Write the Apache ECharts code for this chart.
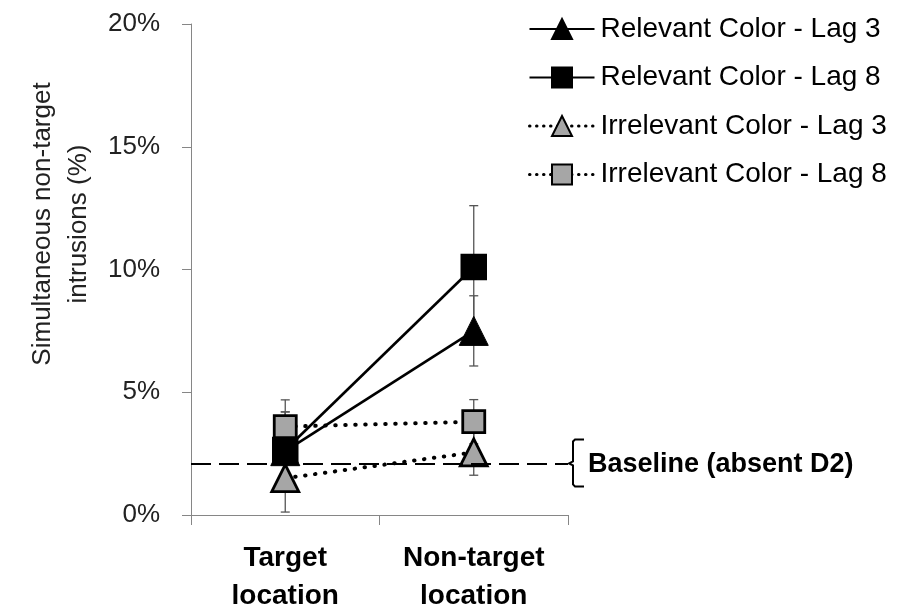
<!DOCTYPE html>
<html>
<head>
<meta charset="utf-8">
<script src="https://cdn.jsdelivr.net/npm/echarts@6/dist/echarts.min.js"></script>
<style>html,body{margin:0;padding:0;background:#fff}#c{width:904px;height:610px}</style>
</head>
<body>
<div id="c"></div>
<script>
const categories = ['Target\nlocation', 'Non-target\nlocation'];
const seriesNames = ['Relevant Color - Lag 3', 'Relevant Color - Lag 8', 'Irrelevant Color - Lag 3', 'Irrelevant Color - Lag 8'];
const relLag3 = [2.6, 7.5];
const relLag8 = [2.65, 10.1];
const irrLag3 = [1.5, 2.55];
const irrLag8 = [3.6, 3.8];
const relLag3Err = [1.6, 1.43];
const relLag8Err = [1.55, 2.5];
const irrLag3Err = [1.38, 0.93];
const irrLag8Err = [1.09, 0.9];
const baseline = 2.1;
const baselineLabel = 'Baseline (absent D2)';
const yAxisTitle = 'Simultaneous non-target\nintrusions (%)';

const FONT = 'Liberation Sans';
const chart = echarts.init(document.getElementById('c'), null, {renderer: 'canvas'});

function errSeries(vals, errs) {
  return {
    type: 'custom',
    silent: true,
    z: 1,
    data: vals.map((v, i) => [i, v - errs[i], v + errs[i]]),
    renderItem: function (params, api) {
      const lo = api.coord([api.value(0), api.value(1)]);
      const hi = api.coord([api.value(0), api.value(2)]);
      const w = 4.5;
      const st = {stroke: '#555', lineWidth: 1.3};
      return {
        type: 'group',
        children: [
          {type: 'line', shape: {x1: lo[0], y1: lo[1], x2: hi[0], y2: hi[1]}, style: st},
          {type: 'line', shape: {x1: lo[0] - w, y1: lo[1], x2: lo[0] + w, y2: lo[1]}, style: st},
          {type: 'line', shape: {x1: hi[0] - w, y1: hi[1], x2: hi[0] + w, y2: hi[1]}, style: st}
        ]
      };
    }
  };
}

const dotted = {color: '#000', width: 4, type: [0.5, 9.5], cap: 'round'};
const solid = {color: '#000', width: 2.6, type: 'solid'};
const legendDotted = {color: '#000', width: 3, type: [0.5, 6.5], cap: 'round'};

const option = {
  animation: false,
  backgroundColor: '#fff',
  textStyle: {fontFamily: FONT},
  grid: {left: 191, right: 336, top: 24, bottom: 95, containLabel: false, outerBoundsMode: 'none'},
  legend: {
    data: [
      {name: seriesNames[0]},
      {name: seriesNames[1]},
      {name: seriesNames[2], lineStyle: legendDotted},
      {name: seriesNames[3], lineStyle: legendDotted}
    ],
    orient: 'vertical',
    left: 523,
    top: 10,
    itemWidth: 65,
    itemHeight: 25,
    itemGap: 20.5,
    textStyle: {fontFamily: FONT, fontSize: 28, color: '#000', padding: [0, 0, 0, 1]},
    selectedMode: false
  },
  xAxis: {
    type: 'category',
    data: categories,
    boundaryGap: true,
    axisLine: {lineStyle: {color: '#868686', width: 1}},
    axisTick: {show: true, length: 10, lineStyle: {color: '#868686'}},
    axisLabel: {fontFamily: FONT, fontSize: 28, fontWeight: 'bold', color: '#000', lineHeight: 38, margin: 24},
    splitLine: {show: false}
  },
  yAxis: {
    type: 'value',
    min: 0,
    max: 20,
    interval: 5,
    axisLine: {show: true, lineStyle: {color: '#868686', width: 1}},
    axisTick: {show: true, length: 9, lineStyle: {color: '#868686'}},
    axisLabel: {fontFamily: FONT, fontSize: 26, color: '#222', margin: 31, formatter: '{value}%'},
    splitLine: {show: false}
  },
  series: [
    errSeries(relLag3, relLag3Err),
    errSeries(relLag8, relLag8Err),
    errSeries(irrLag3, irrLag3Err),
    errSeries(irrLag8, irrLag8Err),
    {
      name: seriesNames[0], type: 'line', data: relLag3, z: 2,
      symbol: 'triangle', symbolSize: 29, showAllSymbol: true,
      lineStyle: solid,
      itemStyle: {color: '#000', borderColor: '#000', borderWidth: 1},
      markLine: {
        silent: true, symbol: 'none', animation: false,
        label: {show: false},
        lineStyle: {color: '#000', width: 2, type: [20, 8]},
        data: [{yAxis: baseline}]
      }
    },
    {
      name: seriesNames[1], type: 'line', data: relLag8, z: 3,
      symbol: 'rect', symbolSize: 25,
      lineStyle: solid,
      itemStyle: {color: '#000', borderColor: '#000', borderWidth: 1.5}
    },
    {
      name: seriesNames[2], type: 'line', data: irrLag3, z: 4,
      symbol: 'triangle', symbolSize: 27,
      lineStyle: dotted,
      itemStyle: {color: '#a6a6a6', borderColor: '#000', borderWidth: 2.8}
    },
    {
      name: seriesNames[3], type: 'line', data: irrLag8, z: 5,
      symbol: 'rect', symbolSize: 22,
      lineStyle: dotted,
      itemStyle: {color: '#a6a6a6', borderColor: '#000', borderWidth: 2.8}
    }
  ]
};
chart.setOption(option);

// annotations positioned from the axes
const gridRect = chart.getModel().getComponent('grid').coordinateSystem.getRect();
const yb = chart.convertToPixel({yAxisIndex: 0}, baseline);
const bx = gridRect.x + gridRect.width + 5;
const yt = yb - 24, ybt = yb + 23;

chart.setOption({
  graphic: [
    {
      type: 'polyline', silent: true,
      shape: {points: [[bx + 11, yt], [bx + 2, yt], [bx, yt + 2], [bx, yb - 2], [bx - 4, yb], [bx, yb + 2], [bx, ybt - 2], [bx + 2, ybt], [bx + 11, ybt]]},
      style: {fill: null, stroke: '#000', lineWidth: 2}
    },
    {
      type: 'text', silent: true,
      x: bx + 15, y: yb + 1,
      style: {text: baselineLabel, font: 'bold 27px "' + FONT + '"', fill: '#000', textAlign: 'left', textVerticalAlign: 'middle'}
    },
    {
      type: 'text', silent: true,
      x: 61, y: 224, rotation: Math.PI / 2,
      style: {text: yAxisTitle, font: '26px "' + FONT + '"', fill: '#222', textAlign: 'center', textVerticalAlign: 'middle', lineHeight: 36}
    }
  ]
});
</script>
</body>
</html>
